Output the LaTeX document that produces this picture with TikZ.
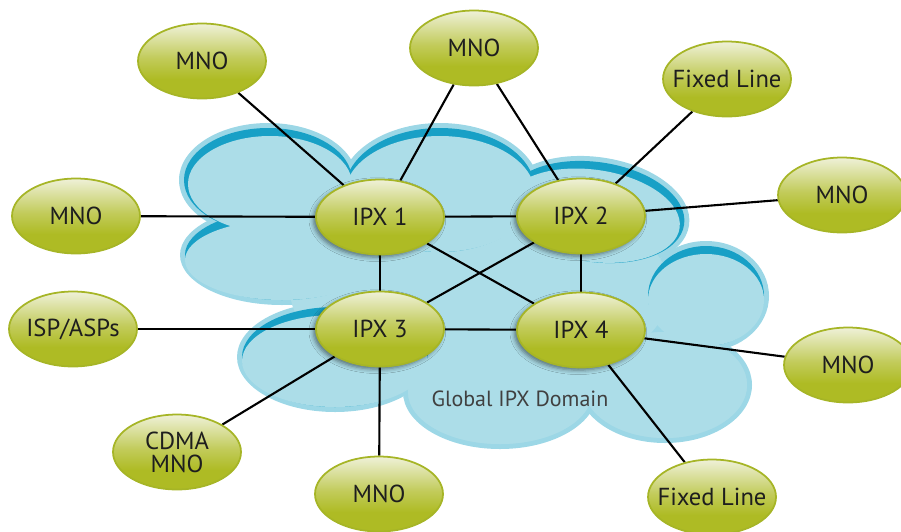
\documentclass[tikz,border=0pt]{standalone}
\usepackage{fontspec}
\setmainfont{PT Sans}
\usepackage{tikz}
\usetikzlibrary{shapes.geometric,shadows.blur}
\definecolor{olivefill}{RGB}{174,187,36}
\definecolor{palefill}{RGB}{239,241,216}
\definecolor{oliveline}{RGB}{166,181,38}
\definecolor{cloudbody}{RGB}{172,221,232}
\definecolor{cloudrim}{RGB}{156,215,230}
\definecolor{clouddark}{RGB}{24,160,198}
\definecolor{textgray}{RGB}{30,30,30}
\pgfdeclareverticalshading{nodeshade}{100bp}{color(0bp)=(olivefill); color(38bp)=(olivefill);
  color(52bp)=(olivefill!70!palefill); color(75bp)=(palefill); color(100bp)=(palefill)}
\pgfdeclarelayer{cloud}
\pgfdeclarelayer{links}
\pgfsetlayers{cloud,links,main}

\begin{document}
\begin{tikzpicture}[x=0.02cm, y=-0.02cm,
    peer/.style={ellipse, draw=oliveline, line width=1pt, shading=nodeshade,
        minimum width=2.56cm, minimum height=1.5cm, inner sep=-10pt, align=center,
        font=\fontsize{14}{13}\selectfont, text=textgray},
    ipx/.style={peer, blur shadow={shadow xshift=-1.5pt, shadow yshift=-1.5pt,
        shadow blur radius=2.5pt, shadow opacity=50}},
    link/.style={line width=1.2pt, black}
]
    \useasboundingbox (0,0) rectangle (901,531);

    % exchange nodes
    \node[ipx] (ipx1) at (380,217) {IPX 1};
    \node[ipx] (ipx2) at (581,216) {IPX 2};
    \node[ipx] (ipx3) at (380,329) {IPX 3};
    \node[ipx] (ipx4) at (581,330) {IPX 4};

    % operators round the domain
    \node[peer] (mnoNW) at (202,61) {MNO};
    \node[peer] (mnoN) at (474,48) {MNO};
    \node[peer] (fixedNE) at (727,79) {Fixed Line};
    \node[peer] (mnoE) at (842,195) {MNO};
    \node[peer] (mnoW) at (76,216) {MNO};
    \node[peer] (isp) at (73,329) {ISP/ASPs};
    \node[peer] (cdma) at (177,452) {CDMA\\MNO};
    \node[peer] (mnoS) at (379,494) {MNO};
    \node[peer] (fixedSE) at (712,497) {Fixed Line};
    \node[peer] (mnoSE) at (848,365) {MNO};

    \node[font=\fontsize{12.5}{14}\selectfont, text=textgray!85] (domain) at (520,399) {Global IPX Domain};

    \begin{pgfonlayer}{links}
        \foreach \a/\b in {ipx1/ipx2, ipx1/ipx3, ipx1/ipx4, ipx2/ipx3, ipx2/ipx4, ipx3/ipx4,
                mnoNW/ipx1, mnoN/ipx1, mnoN/ipx2, fixedNE/ipx2, mnoE/ipx2, mnoW/ipx1,
                isp/ipx3, cdma/ipx3, mnoS/ipx3, mnoSE/ipx4, fixedSE/ipx4}
            \draw[link] (\a) -- (\b);
    \end{pgfonlayer}

    % cloud: rim, core, dark crescents, then lobe bodies
    \begin{pgfonlayer}{cloud}
        \def\lobes{268/180/84/52/0/2/4/clouddark, 440/190/95/62/0/0/4/clouddark,
            595/212/90/50/-8/-2/4/clouddark, 706/296/58/50/0/0/4/clouddark,
            665/385/82/53/0/0/0/cloudbody, 500/392/92/52/0/0/0/cloudbody,
            335/357/93/50/0/0/4/clouddark, 282/255/97/45/0/0/5/clouddark}
        \foreach \cx/\cy/\rx/\ry/\rot/\dx/\dy/\dk in \lobes
            \fill[cloudrim, shift={(\cx,\cy)}, rotate=\rot] (0,0) ellipse[x radius=\rx+5, y radius=\ry+5];
        \fill[cloudbody] (480,290) ellipse[x radius=190, y radius=98];
        \foreach \cx/\cy/\rx/\ry/\rot/\dx/\dy/\dk in \lobes
            \fill[\dk, shift={(\cx,\cy)}, rotate=\rot] (0,0) ellipse[x radius=\rx, y radius=\ry];
        \foreach \cx/\cy/\rx/\ry/\rot/\dx/\dy/\dk in \lobes
            \fill[cloudbody, shift={(\cx,\cy)}, rotate=\rot] (\dx,\dy) ellipse[x radius=\rx-abs(\dx), y radius=\ry-abs(\dy)];
    \end{pgfonlayer}
\end{tikzpicture}
\end{document}
